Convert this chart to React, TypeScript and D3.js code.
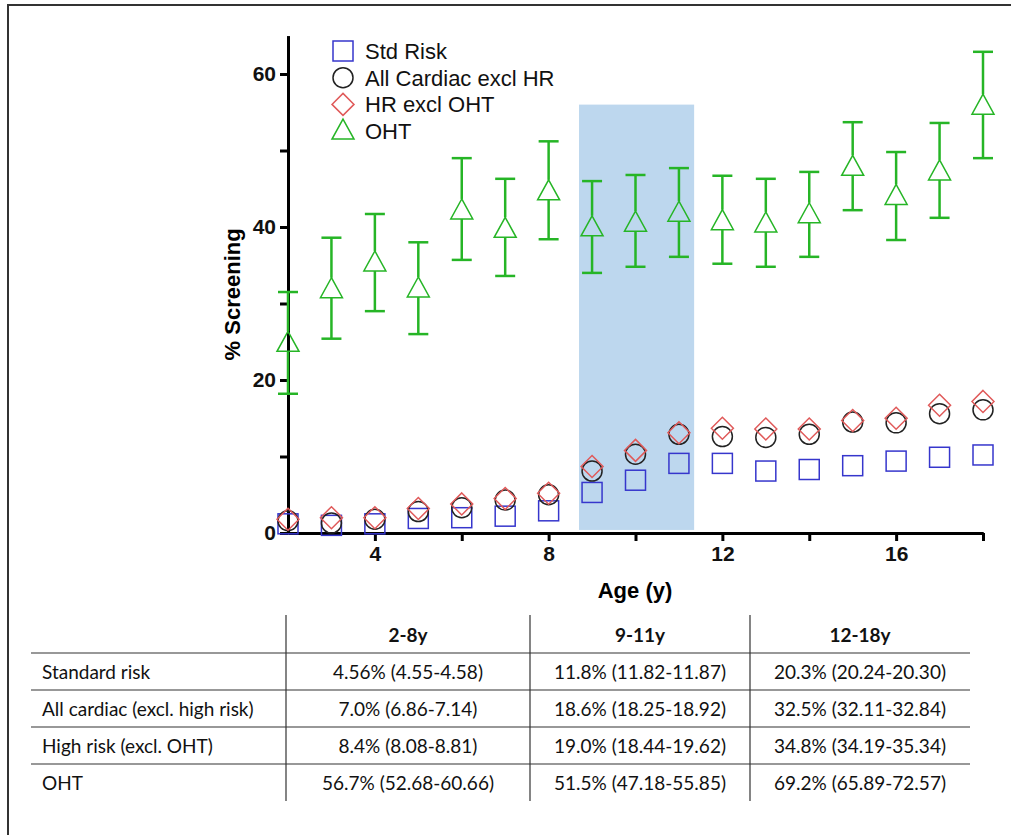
import React, { useEffect, useRef } from 'react';
import * as d3 from 'd3';

// age in years
const ages = [2, 3, 4, 5, 6, 7, 8, 9, 10, 11, 12, 13, 14, 15, 16, 17, 18];

// % screening by series
const stdRisk = [1.2, 1.0, 1.2, 1.9, 2.0, 2.2, 2.9, 5.3, 6.9, 9.1, 9.1, 8.1, 8.3, 8.8, 9.4, 9.9, 10.2];
const allCardiac = [1.6, 1.3, 1.8, 2.8, 3.3, 4.3, 5.0, 8.1, 10.3, 12.9, 12.6, 12.5, 12.9, 14.5, 14.4, 15.6, 16.1];
const hrExclOht = [1.8, 2.0, 2.0, 3.2, 3.8, 4.5, 5.2, 8.7, 10.8, 13.1, 13.7, 13.6, 13.6, 14.7, 15.0, 16.7, 17.2];
const oht = [24.8, 31.8, 35.3, 31.9, 42.1, 39.7, 44.6, 39.9, 40.5, 41.8, 40.7, 40.4, 41.6, 47.8, 44.0, 47.2, 55.8];
const ohtLow = [18.2, 25.4, 29.0, 26.0, 35.7, 33.6, 38.4, 34.0, 34.8, 36.1, 35.2, 34.8, 36.1, 42.2, 38.3, 41.2, 49.0];
const ohtHigh = [31.5, 38.6, 41.7, 38.0, 49.0, 46.3, 51.2, 46.0, 46.8, 47.7, 46.7, 46.3, 47.2, 53.7, 49.8, 53.6, 62.9];

// shaded 9-11y window
const bandAges = [8.7, 11.35];
const bandTop = 56;

const xTicks = [4, 8, 12, 16];
const xMinorTicks = [6, 10, 14, 18];
const yTicks = [0, 20, 40, 60];
const yMinorTicks = [10, 30, 50];

const legendLabels = ['Std Risk', 'All Cardiac excl HR', 'HR excl OHT', 'OHT'];

const tableHeaders = ['2-8y', '9-11y', '12-18y'];
const tableRowLabels = ['Standard risk', 'All cardiac (excl. high risk)', 'High risk (excl. OHT)', 'OHT'];
const tableCells = [
  ['4.56% (4.55-4.58)', '11.8% (11.82-11.87)', '20.3% (20.24-20.30)'],
  ['7.0% (6.86-7.14)', '18.6% (18.25-18.92)', '32.5% (32.11-32.84)'],
  ['8.4% (8.08-8.81)', '19.0% (18.44-19.62)', '34.8% (34.19-35.34)'],
  ['56.7% (52.68-60.66)', '51.5% (47.18-55.85)', '69.2% (65.89-72.57)'],
];

const BLUE = '#3636cc';
const BLACK = '#222';
const RED = '#e05a5a';
const GREEN = '#26b526';
const AXIS_FONT = "'Liberation Sans', Arial, sans-serif";
const TABLE_FONT = "Lato, 'Open Sans', sans-serif";

const App = () => {
  const svgRef = useRef<SVGSVGElement>(null);

  useEffect(() => {
    const width = 1011;
    const height = 835;
    const svg = d3.select(svgRef.current).attr('width', width).attr('height', height);
    svg.selectAll('*').remove();

    // page border (cut at right/bottom)
    svg.append('path')
      .attr('d', `M8,${height} L8,5 L${width},5`)
      .attr('fill', 'none')
      .attr('stroke', '#333')
      .attr('stroke-width', 2);

    const x = d3.scaleLinear().domain([2, 18]).range([288, 983]);
    const y = d3.scaleLinear().domain([0, 65]).range([533, 35.75]);

    // highlight band
    svg.append('rect')
      .attr('x', x(bandAges[0]))
      .attr('y', y(bandTop))
      .attr('width', x(bandAges[1]) - x(bandAges[0]))
      .attr('height', y(0.4) - y(bandTop))
      .attr('fill', '#bdd7ee');

    // axes
    const yAxis = svg.append('g')
      .attr('transform', `translate(${x(2)},0)`)
      .call(d3.axisLeft(y).tickValues(yTicks).tickSize(8).tickPadding(4).tickSizeOuter(0));
    yAxis.append('g').call(d3.axisLeft(y).tickValues(yMinorTicks).tickSize(8).tickFormat(() => '').tickSizeOuter(0));

    const xAxis = svg.append('g')
      .attr('transform', `translate(0,${y(0)})`)
      .call(d3.axisBottom(x).tickValues(xTicks).tickSize(8).tickPadding(5).tickSizeOuter(0));
    xAxis.append('g').call(d3.axisBottom(x).tickValues(xMinorTicks).tickSize(8).tickFormat(() => '').tickSizeOuter(0));

    svg.selectAll('.domain').attr('stroke', '#000').attr('stroke-width', 3);
    svg.selectAll('.tick line').attr('stroke', '#000').attr('stroke-width', 3);
    svg.selectAll('.tick text')
      .attr('font-family', AXIS_FONT)
      .attr('font-size', 21)
      .attr('font-weight', 'bold')
      .attr('fill', '#111');

    // axis titles
    svg.append('text')
      .attr('transform', `translate(240,${(y(0) + y(65)) / 2 + 10}) rotate(-90)`)
      .attr('text-anchor', 'middle')
      .attr('font-family', AXIS_FONT)
      .attr('font-size', 22)
      .attr('font-weight', 'bold')
      .text('% Screening');

    svg.append('text')
      .attr('x', 635)
      .attr('y', 598)
      .attr('text-anchor', 'middle')
      .attr('font-family', AXIS_FONT)
      .attr('font-size', 22)
      .attr('font-weight', 'bold')
      .text('Age (y)');

    // marker shapes
    const drawSquare = (g, cx, cy) => g.append('rect')
      .attr('x', cx - 10).attr('y', cy - 10).attr('width', 20).attr('height', 20)
      .attr('fill', 'none').attr('stroke', BLUE).attr('stroke-width', 1.5);
    const drawCircle = (g, cx, cy) => g.append('circle')
      .attr('cx', cx).attr('cy', cy).attr('r', 10)
      .attr('fill', 'none').attr('stroke', BLACK).attr('stroke-width', 1.5);
    const drawDiamond = (g, cx, cy) => g.append('path')
      .attr('d', `M${cx},${cy - 11} L${cx + 11},${cy} L${cx},${cy + 11} L${cx - 11},${cy} Z`)
      .attr('fill', 'none').attr('stroke', RED).attr('stroke-width', 1.5);
    const drawTriangle = (g, cx, cy) => g.append('path')
      .attr('d', `M${cx},${cy - 12} L${cx + 11},${cy + 8} L${cx - 11},${cy + 8} Z`)
      .attr('fill', 'none').attr('stroke', GREEN).attr('stroke-width', 1.5);

    // OHT error bars
    const bars = svg.append('g').attr('stroke', GREEN).attr('stroke-width', 2.5);
    ages.forEach((a, i) => {
      const cx = x(a);
      bars.append('line').attr('x1', cx).attr('x2', cx).attr('y1', y(ohtHigh[i])).attr('y2', y(oht[i]) - 12);
      bars.append('line').attr('x1', cx).attr('x2', cx).attr('y1', y(oht[i]) + 8).attr('y2', y(ohtLow[i]));
      bars.append('line').attr('x1', cx - 10).attr('x2', cx + 10).attr('y1', y(ohtHigh[i])).attr('y2', y(ohtHigh[i]));
      bars.append('line').attr('x1', cx - 10).attr('x2', cx + 10).attr('y1', y(ohtLow[i])).attr('y2', y(ohtLow[i]));
    });

    const points = svg.append('g');
    ages.forEach((a, i) => drawSquare(points, x(a), y(stdRisk[i])));
    ages.forEach((a, i) => drawCircle(points, x(a), y(allCardiac[i])));
    ages.forEach((a, i) => drawDiamond(points, x(a), y(hrExclOht[i])));
    ages.forEach((a, i) => drawTriangle(points, x(a), y(oht[i])));

    // legend
    const legend = svg.append('g');
    const legendDraw = [drawSquare, drawCircle, drawDiamond, drawTriangle];
    legendLabels.forEach((label, i) => {
      const cy = 51 + i * 26.7;
      legendDraw[i](legend, 343, cy);
      legend.append('text')
        .attr('x', 365)
        .attr('y', cy + 8)
        .attr('font-family', AXIS_FONT)
        .attr('font-size', 22)
        .attr('fill', '#111')
        .text(label);
    });

    // summary table
    const colEdges = [31, 286, 530, 750, 970];
    const rowLines = [653, 690, 727, 764];
    const table = svg.append('g').attr('font-family', TABLE_FONT).attr('font-size', 19).attr('fill', '#111');
    rowLines.forEach(ly => table.append('line')
      .attr('x1', colEdges[0]).attr('x2', colEdges[4]).attr('y1', ly).attr('y2', ly)
      .attr('stroke', '#333').attr('stroke-width', 1.2));
    colEdges.slice(1, 4).forEach(lx => table.append('line')
      .attr('x1', lx).attr('x2', lx).attr('y1', 615).attr('y2', 801)
      .attr('stroke', '#333').attr('stroke-width', 1.2));

    tableHeaders.forEach((h, j) => table.append('text')
      .attr('x', (colEdges[j + 1] + colEdges[j + 2]) / 2)
      .attr('y', 642)
      .attr('text-anchor', 'middle')
      .attr('font-weight', 'bold')
      .text(h));

    tableRowLabels.forEach((label, i) => {
      const ty = 679 + i * 37;
      table.append('text').attr('x', 42).attr('y', ty).text(label);
      tableCells[i].forEach((v, j) => table.append('text')
        .attr('x', (colEdges[j + 1] + colEdges[j + 2]) / 2)
        .attr('y', ty)
        .attr('text-anchor', 'middle')
        .text(v));
    });
  }, []);

  return (
    <div style={{ position: 'absolute', left: 0, top: 0, background: '#fff' }}>
      <svg ref={svgRef} style={{ display: 'block' }}></svg>
    </div>
  );
};

export default App;
